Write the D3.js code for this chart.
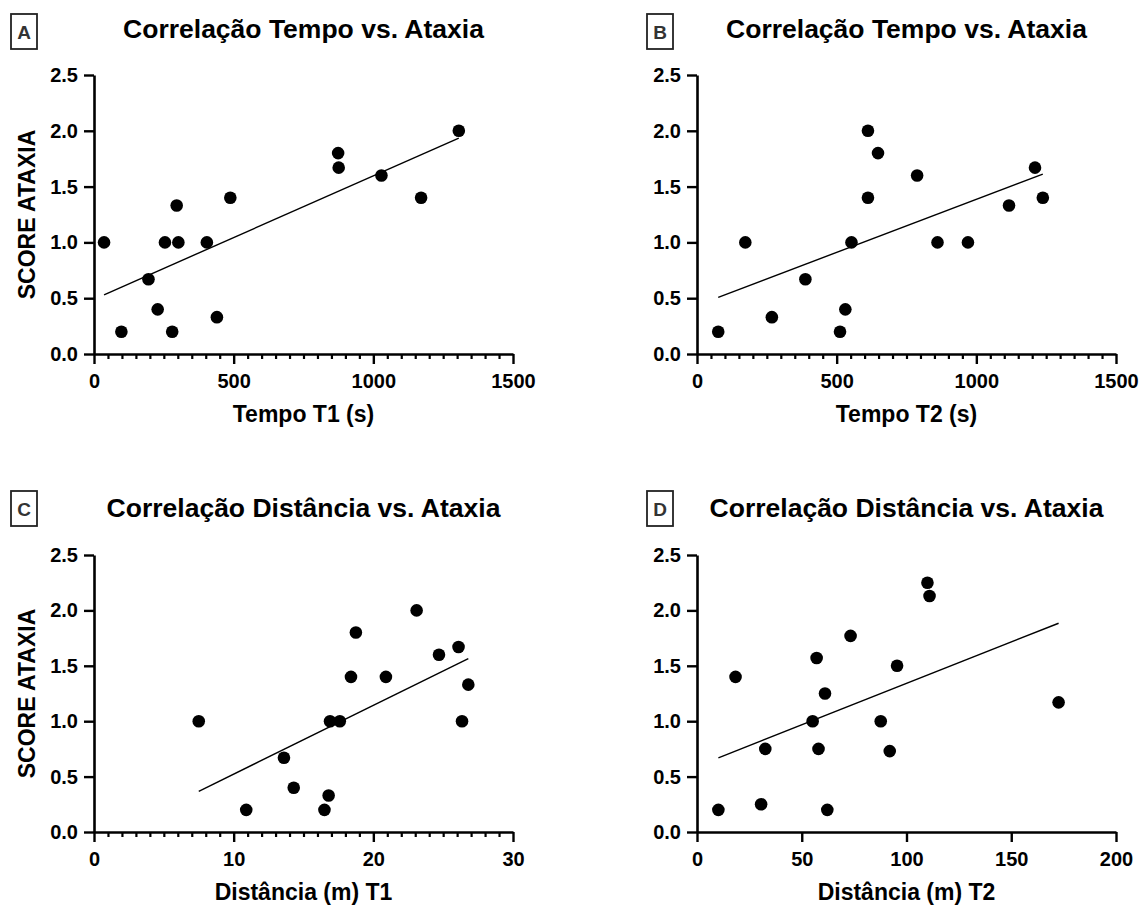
<!DOCTYPE html>
<html>
<head>
<meta charset="utf-8">
<script src="https://cdn.jsdelivr.net/npm/d3@7"></script>
<style>
  html, body { margin: 0; padding: 0; background: #fff; }
  svg { display: block; }
  text { font-family: "Liberation Sans", Arial, Helvetica, sans-serif; font-weight: bold; fill: #000; }
</style>
</head>
<body>
<svg id="chart" width="1140" height="906"></svg>
<script>
// ---------- DATA ----------
const yTickValues = [0, 0.5, 1.0, 1.5, 2.0, 2.5];
const tempoTicks = [0, 500, 1000, 1500];
const distT1Ticks = [0, 10, 20, 30];
const distT2Ticks = [0, 50, 100, 150, 200];

const panelLetters = ["A", "B", "C", "D"];
const panelTitles = [
  "Correlação Tempo vs. Ataxia",
  "Correlação Tempo vs. Ataxia",
  "Correlação Distância vs. Ataxia",
  "Correlação Distância vs. Ataxia"
];
const xAxisTitles = ["Tempo T1 (s)", "Tempo T2 (s)", "Distância (m) T1", "Distância (m) T2"];
const yAxisTitle = "SCORE ATAXIA";

// Panel A: Tempo T1 vs score
const tempoT1 = [36, 98, 195, 228, 254, 280, 296, 302, 404, 440, 488, 874, 876, 1029, 1171, 1306];
const scoreA  = [1.0, 0.2, 0.67, 0.4, 1.0, 0.2, 1.33, 1.0, 1.0, 0.33, 1.4, 1.8, 1.67, 1.6, 1.4, 2.0];
// Panel B: Tempo T2 vs score
const tempoT2 = [76, 173, 268, 388, 512, 531, 553, 612, 612, 648, 788, 861, 970, 1117, 1210, 1238];
const scoreB  = [0.2, 1.0, 0.33, 0.67, 0.2, 0.4, 1.0, 2.0, 1.4, 1.8, 1.6, 1.0, 1.0, 1.33, 1.67, 1.4];
// Panel C: Distância T1 vs score
const distT1  = [7.5, 10.9, 13.6, 14.3, 16.5, 16.8, 16.9, 17.6, 18.4, 18.75, 20.9, 23.1, 24.7, 26.1, 26.35, 26.8];
const scoreC  = [1.0, 0.2, 0.67, 0.4, 0.2, 0.33, 1.0, 1.0, 1.4, 1.8, 1.4, 2.0, 1.6, 1.67, 1.0, 1.33];
// Panel D: Distância T2 vs score
const distT2  = [10.2, 18.4, 30.6, 32.6, 55.2, 57.1, 58.0, 61.1, 62.2, 73.3, 87.7, 92.0, 95.5, 110.0, 111.0, 172.6];
const scoreD  = [0.2, 1.4, 0.25, 0.75, 1.0, 1.57, 0.75, 1.25, 0.2, 1.77, 1.0, 0.73, 1.5, 2.25, 2.13, 1.17];

// ---------- LAYOUT ----------
const layouts = [
  { left: 94,  right: 513,  top: 75,  bottom: 354, boxX: 11,  boxY: 14,  titleY: 38,  xTitleY: 422, yTitle: true,  minorStep: 50 },
  { left: 697, right: 1116, top: 75,  bottom: 354, boxX: 647, boxY: 14,  titleY: 38,  xTitleY: 422, yTitle: false, minorStep: 50 },
  { left: 94,  right: 513,  top: 555, bottom: 832, boxX: 11,  boxY: 491, titleY: 517, xTitleY: 900, yTitle: true,  minorStep: 1 },
  { left: 697, right: 1116, top: 555, bottom: 832, boxX: 647, boxY: 491, titleY: 517, xTitleY: 900, yTitle: false, minorStep: 0 }
];

const xData = [tempoT1, tempoT2, distT1, distT2];
const yData = [scoreA, scoreB, scoreC, scoreD];
const xTickSets = [tempoTicks, tempoTicks, distT1Ticks, distT2Ticks];

const svg = d3.select("#chart");

function linReg(xs, ys) {
  const mx = d3.mean(xs), my = d3.mean(ys);
  let num = 0, den = 0;
  xs.forEach((x, i) => { num += (x - mx) * (ys[i] - my); den += (x - mx) * (x - mx); });
  const b = num / den;
  return { slope: b, intercept: my - b * mx };
}

layouts.forEach((L, p) => {
  const xs = xData[p], ys = yData[p], ticks = xTickSets[p];
  const xDomain = d3.extent(ticks);
  const x = d3.scaleLinear().domain(xDomain).range([L.left, L.right]);
  const y = d3.scaleLinear().domain(d3.extent(yTickValues)).range([L.bottom, L.top]);
  const g = svg.append("g");

  // Panel letter box
  g.append("rect")
    .attr("x", L.boxX).attr("y", L.boxY).attr("width", 26).attr("height", 35)
    .attr("fill", "none").attr("stroke", "#222").attr("stroke-width", 1.8);
  g.append("text")
    .attr("x", L.boxX + 13).attr("y", L.boxY + 25)
    .attr("text-anchor", "middle").style("font-size", "19px").style("fill", "#333")
    .text(panelLetters[p]);

  // Title
  g.append("text")
    .attr("x", (L.left + L.right) / 2).attr("y", L.titleY)
    .attr("text-anchor", "middle").style("font-size", "26.5px")
    .text(panelTitles[p]);

  // Minor x ticks
  if (L.minorStep > 0) {
    const minor = d3.range(xDomain[0], xDomain[1] + 1e-9, L.minorStep).filter(v => !ticks.some(t => Math.abs(t - v) < 1e-9));
    const minorAxis = d3.axisBottom(x).tickValues(minor).tickSize(5).tickSizeOuter(0).tickFormat("");
    const mg = g.append("g").attr("transform", `translate(0,${L.bottom})`).call(minorAxis);
    mg.select(".domain").remove();
    mg.selectAll("line").attr("stroke", "#000").attr("stroke-width", 2.2);
  }

  // X axis
  const xAxis = d3.axisBottom(x).tickValues(ticks).tickSize(10).tickSizeOuter(0).tickPadding(10).tickFormat(d3.format("d"));
  const xg = g.append("g").attr("transform", `translate(0,${L.bottom})`).call(xAxis);
  xg.select(".domain").attr("stroke", "#000").attr("stroke-width", 2.6);
  xg.selectAll("line").attr("stroke", "#000").attr("stroke-width", 2.4);
  xg.selectAll("text").style("font-size", "20px").style("font-family", "'Liberation Sans', Arial, sans-serif").style("font-weight", "bold").attr("fill", "#000");

  // Y axis
  const yAxis = d3.axisLeft(y).tickValues(yTickValues).tickSize(10).tickSizeOuter(0).tickPadding(6).tickFormat(d3.format(".1f"));
  const yg = g.append("g").attr("transform", `translate(${L.left},0)`).call(yAxis);
  yg.select(".domain").attr("stroke", "#000").attr("stroke-width", 2.6);
  yg.selectAll("line").attr("stroke", "#000").attr("stroke-width", 2.4);
  yg.selectAll("text").style("font-size", "20px").style("font-family", "'Liberation Sans', Arial, sans-serif").style("font-weight", "bold").attr("fill", "#000");

  // Axis titles
  g.append("text")
    .attr("x", (L.left + L.right) / 2).attr("y", L.xTitleY)
    .attr("text-anchor", "middle").style("font-size", "23px")
    .text(xAxisTitles[p]);
  if (L.yTitle) {
    const cy = (L.top + L.bottom) / 2;
    g.append("text")
      .attr("transform", `translate(35,${cy}) rotate(-90)`)
      .attr("text-anchor", "middle").style("font-size", "23px")
      .text(yAxisTitle);
  }

  // Regression line
  const r = linReg(xs, ys);
  const [xmin, xmax] = d3.extent(xs);
  g.append("line")
    .attr("x1", x(xmin)).attr("y1", y(r.intercept + r.slope * xmin))
    .attr("x2", x(xmax)).attr("y2", y(r.intercept + r.slope * xmax))
    .attr("stroke", "#000").attr("stroke-width", 1.4);

  // Points
  g.selectAll("circle.pt").data(xs.map((v, i) => [v, ys[i]])).join("circle")
    .attr("class", "pt")
    .attr("cx", d => x(d[0])).attr("cy", d => y(d[1])).attr("r", 6.3)
    .attr("fill", "#000");
});
</script>
</body>
</html>
